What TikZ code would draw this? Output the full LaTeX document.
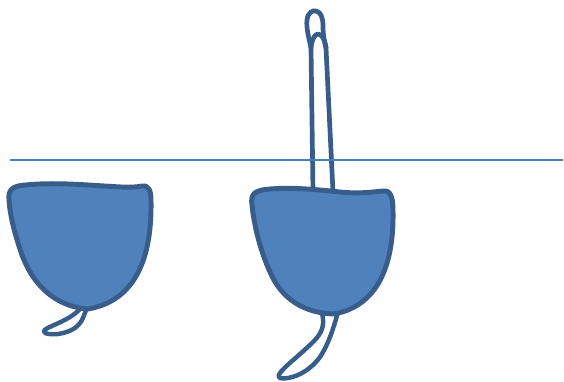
\documentclass[tikz,border=0pt]{standalone}
\usetikzlibrary{positioning}

\definecolor{cellfill}{HTML}{4F81BD}
\definecolor{celledge}{HTML}{385D8A}
\definecolor{levelline}{HTML}{4A7EBB}

\tikzset{
  cellbody/.style={draw=celledge, fill=cellfill, line width=4.2pt, line join=round},
  tailpart/.style={draw=celledge, fill=white, line width=3.8pt, line join=round},
  stalkline/.style={draw=celledge, line width=4pt, line join=round, line cap=round},
  surface/.style={draw=levelline, line width=1.1pt}
}

\begin{document}
\begin{tikzpicture}[x=0.03cm, y=-0.03cm]
  \useasboundingbox (0,0) rectangle (564,381);

  % left cell, tail first so the body covers its root
  \path[tailpart] (80,309) .. controls (70,320) and (52,325) .. (46,329)
    .. controls (40,333) and (48,335) .. (58,334)
    .. controls (71,332) and (79,327) .. (83,318)
    -- (88,305);
  \path[cellbody] (9,200) .. controls (8,190) and (12,186) .. (25,185)
    .. controls (55,182) and (85,185) .. (105,186)
    .. controls (120,187) and (132,188) .. (142,186)
    .. controls (149,185) and (151,191) .. (151,200)
    .. controls (152,250) and (140,300) .. (88,309)
    .. controls (60,307) and (35,290) .. (22,255)
    .. controls (14,232) and (10,215) .. cycle;

  % right cell with stalk and tail
  \draw[stalkline] (313,192) -- (311,48)
    .. controls (309,38) and (306,28) .. (307,20)
    .. controls (308,12) and (313,10) .. (316,11)
    .. controls (321,12) and (323,18) .. (323,26)
    .. controls (323,34) and (324,40) .. (326,48) -- (333,192);
  \draw[stalkline] (311,48) .. controls (312,39) and (315,34) .. (318,34)
    .. controls (322,34) and (325,40) .. (326,48);
  \path[tailpart] (322,313) .. controls (325,325) and (322,333) .. (314,341)
    .. controls (300,355) and (285,366) .. (280,373)
    .. controls (276,379) and (282,379) .. (288,378)
    .. controls (300,376) and (312,368) .. (320,357)
    .. controls (328,345) and (333,330) .. (338,312);
  \path[cellbody] (252,205) .. controls (250,193) and (256,190) .. (270,189)
    .. controls (295,187) and (320,190) .. (340,192)
    .. controls (360,194) and (372,192) .. (383,191)
    .. controls (390,190) and (393,196) .. (393,210)
    .. controls (394,258) and (382,305) .. (334,314)
    .. controls (305,313) and (282,300) .. (270,272)
    .. controls (260,250) and (254,225) .. cycle;

  % water surface
  \draw[surface] (10,160) -- (563,160);
\end{tikzpicture}
\end{document}
